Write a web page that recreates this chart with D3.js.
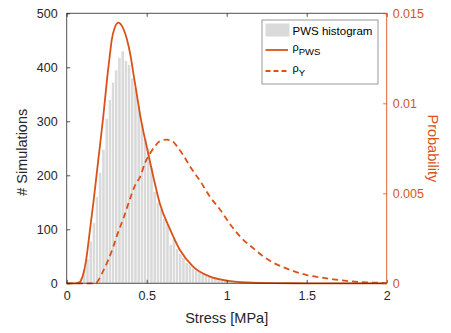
<!DOCTYPE html>
<html>
<head>
<meta charset="utf-8">
<script src="https://cdn.jsdelivr.net/npm/d3@7/dist/d3.min.js"></script>
<style>
  html, body { margin: 0; padding: 0; background: #fff; }
  svg { display: block; font-family: "Liberation Sans", Arial, sans-serif; }
</style>
</head>
<body>
<svg id="chart" width="451" height="333"></svg>
<script>
// ── data ─────────────────────────────────────────────────
// histogram bins (left edge, MPa) and counts
const binLeft = [0.04,0.06,0.08,0.10,0.12,0.14,0.16,0.18,0.20,0.22,0.24,0.26,0.28,0.30,0.32,0.34,0.36,0.38,0.40,0.42,
  0.44,0.46,0.48,0.50,0.52,0.54,0.56,0.58,0.60,0.62,0.64,0.66,0.68,0.70,0.72,0.74,0.76,0.78,0.80,0.82,
  0.84,0.86,0.88,0.90,0.92,0.94,0.96,0.98,1.00,1.02,1.04,1.06,1.08,1.10,1.12,1.14,1.16,1.18,1.20,1.22];
const binCount = [1,4,10,26,45,78,112,160,205,248,305,340,372,395,418,430,412,405,380,362,
  330,296,268,250,215,170,150,138,120,110,72,82,64,55,48,38,34,28,24,21,
  18,16,14,12,11,9,8,6,6,5,4,3,3,2,2,2,1,1,1,1];
const binWidth = 0.02;

// rho_PWS curve (stress, probability)
const pwsX = [0,0.06,0.08,0.10,0.12,0.135,0.15,0.167,0.18,0.198,0.215,0.229,0.254,0.27,0.281,0.30,0.323,0.345,0.375,0.40,
  0.416,0.44,0.458,0.48,0.50,0.542,0.583,0.646,0.708,0.79,0.896,1.0,1.125,1.3,1.5,2.0];
const pwsP = [0,0,0.00005,0.0004,0.0012,0.0022,0.0033,0.0045,0.0055,0.0069,0.0082,0.0093,0.0115,0.0127,0.0135,0.0142,0.01448,0.0143,0.0136,0.0126,
  0.0117,0.0104,0.0094,0.0084,0.0076,0.0059,0.0044,0.0030,0.00185,0.00093,0.00037,0.00015,0.00005,0.00001,0,0];

// rho_Y curve (stress, probability)
const yX = [0,0.18,0.20,0.229,0.26,0.29,0.32,0.354,0.396,0.43,0.458,0.49,0.52,0.55,0.583,0.625,0.66,0.698,0.73,0.77,
  0.833,0.896,0.958,1.02,1.094,1.167,1.23,1.29,1.354,1.427,1.5,1.583,1.667,1.75,1.833,1.917,2.0];
const yP = [0,0,0.0002,0.0007,0.0013,0.0020,0.0028,0.0036,0.0047,0.0055,0.0059,0.0067,0.0072,0.0076,0.0079,0.00798,0.0079,0.0075,0.0071,0.0065,
  0.0057,0.0048,0.0041,0.0033,0.0025,0.00194,0.00148,0.00115,0.00089,0.00065,0.00046,0.00033,0.00022,0.00013,0.00007,0.00004,0.00001];

const xTicks = [0, 0.5, 1, 1.5, 2];
const leftTicks = [0, 100, 200, 300, 400, 500];
const rightTicks = [0, 0.005, 0.01, 0.015];
const legendLabels = ['PWS histogram', 'PWS', 'Y'];

// ── layout ───────────────────────────────────────────────
const ORANGE = '#D95319';
const INK = '#262626';
const plot = { left: 66.7, right: 386.7, top: 13.3, bottom: 283.3 };

const svg = d3.select('#chart');

const x = d3.scaleLinear().domain([0, 2]).range([plot.left, plot.right]);
const yL = d3.scaleLinear().domain([0, 500]).range([plot.bottom, plot.top]);
const yR = d3.scaleLinear().domain([0, 0.015]).range([plot.bottom, plot.top]);

// histogram bars
svg.append('g')
  .selectAll('rect')
  .data(binLeft.map((b, i) => ({ b, c: binCount[i] })))
  .join('rect')
  .attr('x', d => x(d.b))
  .attr('y', d => yL(d.c))
  .attr('width', d => x(d.b + binWidth) - x(d.b))
  .attr('height', d => yL(0) - yL(d.c))
  .attr('fill', '#dadada')
  .attr('stroke', '#fff')
  .attr('stroke-width', 0.5);

// curves
const line = (xs, ps) => d3.line()
  .x((d, i) => x(xs[i]))
  .y((d, i) => yR(ps[i]))
  .curve(d3.curveMonotoneX)(xs);

svg.append('path')
  .attr('d', line(yX, yP))
  .attr('fill', 'none')
  .attr('stroke', ORANGE)
  .attr('stroke-width', 1.8)
  .attr('stroke-dasharray', '6,4');

svg.append('path')
  .attr('d', line(pwsX, pwsP))
  .attr('fill', 'none')
  .attr('stroke', ORANGE)
  .attr('stroke-width', 1.8);

// axes (MATLAB style: ticks inward, box on)
const tickLen = 3.5;
const fmt = d => String(d);

const gBottom = svg.append('g')
  .attr('transform', `translate(0,${plot.bottom})`)
  .call(d3.axisBottom(x).tickValues(xTicks).tickSize(-tickLen).tickPadding(8).tickFormat(fmt));
const gTop = svg.append('g')
  .attr('transform', `translate(0,${plot.top})`)
  .call(d3.axisTop(x).tickValues(xTicks).tickSize(-tickLen).tickFormat(''));
const gLeft = svg.append('g')
  .attr('transform', `translate(${plot.left},0)`)
  .call(d3.axisLeft(yL).tickValues(leftTicks).tickSize(-tickLen).tickPadding(9).tickFormat(fmt));
const gRight = svg.append('g')
  .attr('transform', `translate(${plot.right},0)`)
  .call(d3.axisRight(yR).tickValues(rightTicks).tickSize(-tickLen).tickPadding(6).tickFormat(fmt));

[gBottom, gTop, gLeft].forEach(g => {
  g.select('.domain').attr('stroke', INK).attr('stroke-width', 0.8);
  g.selectAll('.tick line').attr('stroke', INK).attr('stroke-width', 0.8);
  g.selectAll('.tick text').attr('fill', INK).style('font-size', '12.5px');
});
gRight.select('.domain').attr('stroke', ORANGE).attr('stroke-width', 0.9);
gRight.selectAll('.tick line').attr('stroke', ORANGE).attr('stroke-width', 0.8);
gRight.selectAll('.tick text').attr('fill', ORANGE).style('font-size', '12.5px');
gTop.select('.domain').attr('d', `M${plot.left},0H${plot.right}`);
gBottom.select('.domain').attr('d', `M${plot.left},0H${plot.right}`);
gLeft.select('.domain').attr('d', `M0,${plot.top}V${plot.bottom}`);
gRight.select('.domain').attr('d', `M0,${plot.top}V${plot.bottom}`);

// axis labels
svg.append('text')
  .attr('x', (plot.left + plot.right) / 2)
  .attr('y', 323)
  .attr('text-anchor', 'middle')
  .attr('fill', INK)
  .style('font-size', '14.5px')
  .text('Stress [MPa]');

svg.append('text')
  .attr('transform', `translate(27,${(plot.top + plot.bottom) / 2 + 4}) rotate(-90)`)
  .attr('text-anchor', 'middle')
  .attr('fill', INK)
  .style('font-size', '14.5px')
  .text('# Simulations');

svg.append('text')
  .attr('transform', `translate(428,${(plot.top + plot.bottom) / 2}) rotate(90)`)
  .attr('text-anchor', 'middle')
  .attr('fill', ORANGE)
  .style('font-size', '14.5px')
  .text('Probability');

// legend
const lg = svg.append('g').attr('transform', 'translate(262,20)');
lg.append('rect')
  .attr('width', 116).attr('height', 64)
  .attr('fill', '#fff')
  .attr('stroke', '#7f7f7f')
  .attr('stroke-width', 0.8);

lg.append('rect')
  .attr('x', 3.5).attr('y', 3.5).attr('width', 24).attr('height', 13)
  .attr('fill', '#dadada');
lg.append('line')
  .attr('x1', 3.5).attr('x2', 26).attr('y1', 30).attr('y2', 30)
  .attr('stroke', ORANGE).attr('stroke-width', 1.8);
lg.append('line')
  .attr('x1', 3.5).attr('x2', 26).attr('y1', 51).attr('y2', 51)
  .attr('stroke', ORANGE).attr('stroke-width', 1.8)
  .attr('stroke-dasharray', '5,3');

lg.append('text')
  .attr('x', 30.5).attr('y', 14.5)
  .attr('fill', '#000')
  .style('font-size', '11.5px')
  .text(legendLabels[0]);

[legendLabels[1], legendLabels[2]].forEach((sub, i) => {
  const t = lg.append('text')
    .attr('x', 30.5).attr('y', 31 + i * 21)
    .attr('fill', '#000')
    .style('font-size', '11px');
  t.append('tspan').text('ρ');
  t.append('tspan').attr('dy', 4).style('font-size', '9.5px').text(sub);
});
</script>
</body>
</html>
